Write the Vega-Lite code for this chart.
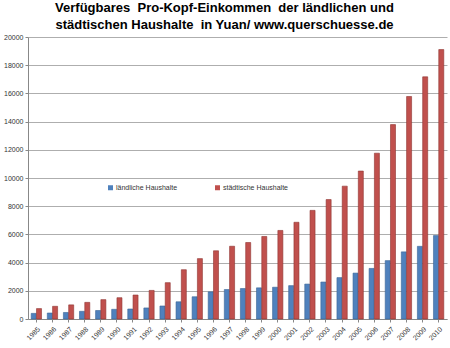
{
  "$schema": "https://vega.github.io/schema/vega-lite/v6.json",
  "autosize": "none",
  "width": 419,
  "height": 282,
  "padding": {"left": 28, "top": 37, "right": 3, "bottom": 29},
  "background": "white",
  "title": {
    "text": ["Verfügbares \u00a0Pro-Kopf-Einkommen \u00a0der ländlichen und", "städtischen Haushalte \u00a0in Yuan/ www.querschuesse.de"],
    "font": "Liberation Sans",
    "fontSize": 13,
    "fontWeight": "bold",
    "color": "#000000",
    "anchor": "middle",
    "dx": -13,
    "offset": 1,
    "lineHeight": 17
  },
  "data": {
    "values": [
      {"year": "1985", "type": "ländliche Haushalte", "value": 398},
      {"year": "1986", "type": "ländliche Haushalte", "value": 424},
      {"year": "1987", "type": "ländliche Haushalte", "value": 463},
      {"year": "1988", "type": "ländliche Haushalte", "value": 545},
      {"year": "1989", "type": "ländliche Haushalte", "value": 602},
      {"year": "1990", "type": "ländliche Haushalte", "value": 686},
      {"year": "1991", "type": "ländliche Haushalte", "value": 709},
      {"year": "1992", "type": "ländliche Haushalte", "value": 784},
      {"year": "1993", "type": "ländliche Haushalte", "value": 922},
      {"year": "1994", "type": "ländliche Haushalte", "value": 1221},
      {"year": "1995", "type": "ländliche Haushalte", "value": 1578},
      {"year": "1996", "type": "ländliche Haushalte", "value": 1926},
      {"year": "1997", "type": "ländliche Haushalte", "value": 2090},
      {"year": "1998", "type": "ländliche Haushalte", "value": 2162},
      {"year": "1999", "type": "ländliche Haushalte", "value": 2210},
      {"year": "2000", "type": "ländliche Haushalte", "value": 2253},
      {"year": "2001", "type": "ländliche Haushalte", "value": 2366},
      {"year": "2002", "type": "ländliche Haushalte", "value": 2476},
      {"year": "2003", "type": "ländliche Haushalte", "value": 2622},
      {"year": "2004", "type": "ländliche Haushalte", "value": 2936},
      {"year": "2005", "type": "ländliche Haushalte", "value": 3255},
      {"year": "2006", "type": "ländliche Haushalte", "value": 3587},
      {"year": "2007", "type": "ländliche Haushalte", "value": 4140},
      {"year": "2008", "type": "ländliche Haushalte", "value": 4761},
      {"year": "2009", "type": "ländliche Haushalte", "value": 5153},
      {"year": "2010", "type": "ländliche Haushalte", "value": 5919},
      {"year": "1985", "type": "städtische Haushalte", "value": 739},
      {"year": "1986", "type": "städtische Haushalte", "value": 900},
      {"year": "1987", "type": "städtische Haushalte", "value": 1002},
      {"year": "1988", "type": "städtische Haushalte", "value": 1180},
      {"year": "1989", "type": "städtische Haushalte", "value": 1374},
      {"year": "1990", "type": "städtische Haushalte", "value": 1510},
      {"year": "1991", "type": "städtische Haushalte", "value": 1701},
      {"year": "1992", "type": "städtische Haushalte", "value": 2027},
      {"year": "1993", "type": "städtische Haushalte", "value": 2577},
      {"year": "1994", "type": "städtische Haushalte", "value": 3496},
      {"year": "1995", "type": "städtische Haushalte", "value": 4283},
      {"year": "1996", "type": "städtische Haushalte", "value": 4839},
      {"year": "1997", "type": "städtische Haushalte", "value": 5160},
      {"year": "1998", "type": "städtische Haushalte", "value": 5425},
      {"year": "1999", "type": "städtische Haushalte", "value": 5854},
      {"year": "2000", "type": "städtische Haushalte", "value": 6280},
      {"year": "2001", "type": "städtische Haushalte", "value": 6860},
      {"year": "2002", "type": "städtische Haushalte", "value": 7703},
      {"year": "2003", "type": "städtische Haushalte", "value": 8472},
      {"year": "2004", "type": "städtische Haushalte", "value": 9422},
      {"year": "2005", "type": "städtische Haushalte", "value": 10493},
      {"year": "2006", "type": "städtische Haushalte", "value": 11759},
      {"year": "2007", "type": "städtische Haushalte", "value": 13786},
      {"year": "2008", "type": "städtische Haushalte", "value": 15781},
      {"year": "2009", "type": "städtische Haushalte", "value": 17175},
      {"year": "2010", "type": "städtische Haushalte", "value": 19109}
    ]
  },
  "mark": {"type": "bar", "strokeWidth": 0.6},
  "encoding": {
    "x": {
      "field": "year",
      "type": "nominal",
      "scale": {"paddingInner": 0.36, "paddingOuter": 0.2},
      "axis": {
        "title": null,
        "labelAngle": -45,
        "labelFontSize": 7,
        "labelFont": "Liberation Sans",
        "labelColor": "#333333",
        "domainColor": "#888888",
        "tickColor": "#888888",
        "tickSize": 3,
        "labelPadding": 3
      }
    },
    "xOffset": {
      "field": "type",
      "type": "nominal",
      "sort": ["ländliche Haushalte", "städtische Haushalte"],
      "scale": {"paddingInner": 0.05}
    },
    "y": {
      "field": "value",
      "type": "quantitative",
      "scale": {"domain": [0, 20000], "nice": false},
      "axis": {
        "title": null,
        "values": [0, 2000, 4000, 6000, 8000, 10000, 12000, 14000, 16000, 18000, 20000],
        "format": "d",
        "labelFontSize": 7,
        "labelFont": "Liberation Sans",
        "labelColor": "#333333",
        "domainColor": "#888888",
        "tickColor": "#888888",
        "tickSize": 3,
        "gridColor": "#999999",
        "gridWidth": 0.8,
        "labelPadding": 2
      }
    },
    "color": {
      "field": "type",
      "type": "nominal",
      "sort": ["ländliche Haushalte", "städtische Haushalte"],
      "scale": {"range": ["#4F81BD", "#C0504D"]},
      "legend": {
        "title": null,
        "orient": "none",
        "direction": "horizontal",
        "legendX": 79,
        "legendY": 147,
        "symbolType": "square",
        "symbolSize": 25,
        "symbolStrokeWidth": 0,
        "labelFontSize": 7,
        "labelFont": "Liberation Sans",
        "labelColor": "#333333",
        "labelOffset": 2,
        "columnPadding": 36
      }
    },
    "stroke": {
      "field": "type",
      "type": "nominal",
      "sort": ["ländliche Haushalte", "städtische Haushalte"],
      "scale": {"range": ["#3a6596", "#8e3431"]},
      "legend": null
    }
  },
  "config": {
    "view": {"stroke": null}
  }
}
